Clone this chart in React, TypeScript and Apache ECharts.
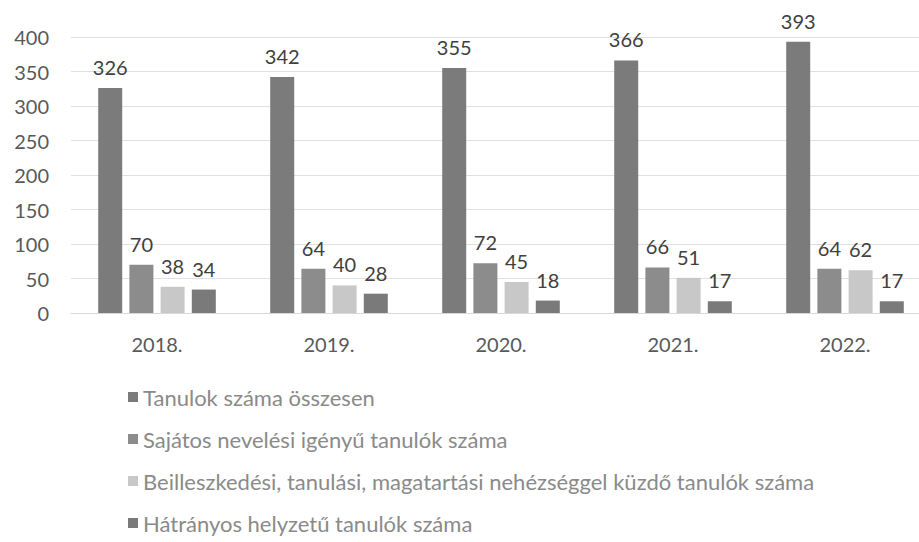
import React, { useEffect, useRef } from "react";
import * as echarts from "echarts";

const categories = ["2018.", "2019.", "2020.", "2021.", "2022."];
const seriesNames = [
  "Tanulok száma összesen",
  "Sajátos nevelési igényű tanulók száma",
  "Beilleszkedési, tanulási, magatartási nehézséggel küzdő tanulók száma",
  "Hátrányos helyzetű tanulók száma",
];
const totalStudents = [326, 342, 355, 366, 393];
const specialNeeds = [70, 64, 72, 66, 64];
const adjustmentDifficulties = [38, 40, 45, 51, 62];
const disadvantaged = [34, 28, 18, 17, 17];
const yTicks = { min: 0, max: 400, interval: 50 };

const colors = ["#7b7b7b", "#8c8c8c", "#c8c8c8", "#7a7a7a"];
const FONT = "Lato, 'Open Sans', sans-serif";

export default function App() {
  const ref = useRef<HTMLDivElement>(null);
  useEffect(() => {
    if (!ref.current) return;
    const chart = echarts.init(ref.current, undefined, { renderer: "svg" });
    const dataSets = [totalStudents, specialNeeds, adjustmentDifficulties, disadvantaged];
    chart.setOption({
      animation: false,
      textStyle: { fontFamily: FONT },
      grid: {
        left: 71,
        top: 37,
        width: 860,
        height: 276,
        outerBoundsMode: "none",
        containLabel: false,
      },
      legend: {
        orient: "vertical",
        left: 128,
        top: 386,
        height: 160,
        padding: 0,
        icon: "rect",
        itemWidth: 10,
        itemHeight: 10,
        itemGap: 20,
        textStyle: { fontSize: 22, color: "#8a8a8a", fontFamily: FONT, lineHeight: 22 },
        data: seriesNames,
      },
      xAxis: {
        type: "category",
        data: categories,
        axisLine: { show: true, lineStyle: { color: "#d9d9d9", width: 1 } },
        axisTick: { show: false },
        axisLabel: { color: "#595959", fontSize: 20, margin: 21, fontFamily: FONT },
      },
      yAxis: {
        type: "value",
        min: yTicks.min,
        max: yTicks.max,
        interval: yTicks.interval,
        axisLine: { show: false },
        axisTick: { show: false },
        splitLine: { lineStyle: { color: "#e0e0e0", width: 1 } },
        axisLabel: { color: "#595959", fontSize: 20, margin: 22, fontFamily: FONT },
      },
      series: dataSets.map((d, i) => ({
        name: seriesNames[i],
        type: "bar",
        data: d,
        barWidth: 24,
        barGap: "30%",
        itemStyle: { color: colors[i] },
        label: {
          show: true,
          position: "top",
          distance: 11,
          color: "#404040",
          fontSize: 20,
          fontFamily: FONT,
        },
      })),
    });
    return () => chart.dispose();
  }, []);
  return (
    <div
      ref={ref}
      style={{ position: "absolute", left: 0, top: 0, width: 919, height: 542, background: "#fff" }}
    />
  );
}
